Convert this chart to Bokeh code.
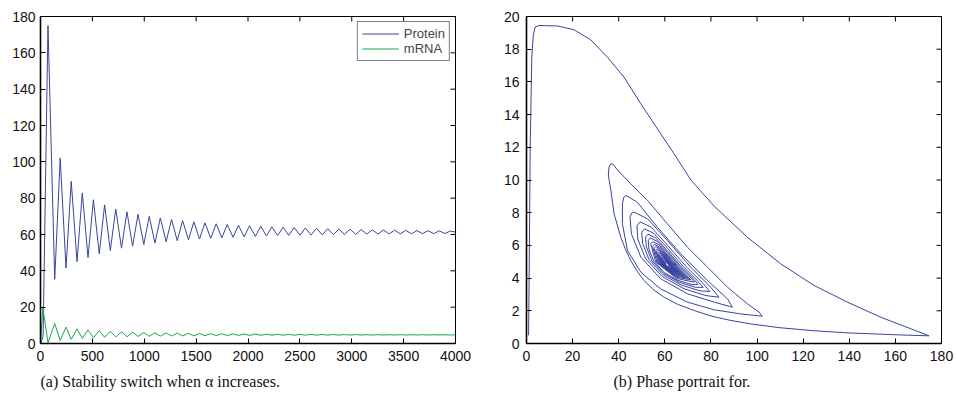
import math
from bokeh.plotting import figure
from bokeh.models import FixedTicker, Legend, LegendItem, Title, Range1d
from bokeh.layouts import row
from bokeh.embed import file_html
from bokeh.resources import INLINE

# ---------------- data: time series (extrema) ----------------
protein_start_t = [0, 25]
protein_start_v = [0, 4]
protein_end_t = [4000]
protein_end_v = [61.3]
peak_t = [72, 190, 296, 403, 510, 618, 725, 833, 940, 1048, 1155, 1263, 1370, 1478, 1585,
          1693, 1800, 1908, 2015, 2123, 2230, 2338, 2445, 2553, 2660, 2768, 2875, 2983,
          3090, 3198, 3305, 3413, 3520, 3628, 3735, 3843, 3950]
trough_t = [137, 246, 352, 458, 566, 673, 781, 888, 996, 1103, 1211, 1318, 1426, 1533,
            1641, 1748, 1856, 1963, 2071, 2178, 2286, 2393, 2501, 2608, 2716, 2823, 2931,
            3038, 3146, 3253, 3361, 3468, 3576, 3683, 3791, 3898]
protein_peaks = [175, 102, 89.3, 82.9, 79.1, 76.3, 74.0, 72.5, 71.1, 70.0, 69.1, 68.3, 67.6,
                 67.0, 66.4, 65.9, 65.5, 65.1, 64.8, 64.5, 64.2, 64.0, 63.8, 63.6, 63.4, 63.2,
                 63.0, 62.9, 62.7, 62.6, 62.5, 62.4, 62.3, 62.2, 62.1, 62.0, 61.9]
protein_troughs = [35.3, 41.5, 45.1, 47.4, 49.4, 51.2, 52.5, 53.6, 54.5, 55.3, 56.0, 56.6,
                   57.1, 57.5, 57.9, 58.2, 58.5, 58.8, 59.0, 59.2, 59.4, 59.5, 59.6, 59.7,
                   59.8, 59.9, 60.0, 60.1, 60.2, 60.25, 60.3, 60.35, 60.4, 60.45, 60.5, 60.55]

mrna_start_t = [0, 23]
mrna_start_v = [0, 19.5]
mrna_end_t = [4000]
mrna_end_v = [4.75]
mrna_troughs = [0.47, 1.67, 2.22, 2.83, 3.18, 3.43, 3.62, 3.75, 3.89, 3.98, 4.06, 4.14, 4.19,
                4.25, 4.30, 4.35, 4.39, 4.42, 4.46, 4.49, 4.52, 4.54, 4.56, 4.58, 4.60, 4.61,
                4.62, 4.63, 4.64, 4.65, 4.66, 4.67, 4.67, 4.68, 4.68, 4.69, 4.69]
mrna_peaks = [11.0, 9.05, 8.03, 7.44, 7.01, 6.69, 6.46, 6.23, 6.06, 5.93, 5.80, 5.70, 5.60,
              5.52, 5.44, 5.37, 5.31, 5.25, 5.20, 5.15, 5.10, 5.06, 5.02, 4.99, 4.96, 4.93,
              4.91, 4.89, 4.87, 4.86, 4.85, 4.84, 4.83, 4.82, 4.81, 4.80]

# ---------------- data: phase portrait (protein, mRNA) ----------------
pp_start_x = [0.9, 1.2, 1.6, 2.3, 2.9, 3.7, 5.5, 13.4, 20.6, 27.9, 35.1, 42.3, 49.6, 56.8, 64.0,
              71.3, 81.4, 95.8, 110.3, 124.7, 139.2, 153.6, 166.7, 174.6]
pp_start_y = [0.5, 5.0, 12.0, 17.5, 18.8, 19.35, 19.45, 19.42, 19.19, 18.57, 17.51, 16.29, 14.66,
              13.13, 11.6, 10.0, 8.4, 6.5, 4.87, 3.55, 2.53, 1.61, 0.9, 0.47]
pp_loop2_x = [160.9, 139.2, 124.7, 110.3, 98.0, 88.6, 80.0, 72.7, 65.5, 59.7, 55.0, 51.0, 47.8,
              45.2, 42.8, 40.9, 38.0, 36.6, 35.5, 35.8, 36.6, 37.6, 39.5, 45.2, 52.5, 61.1, 69.8,
              78.5, 87.2, 95.8, 100.9, 102.3]
pp_loop2_y = [0.53, 0.65, 0.78, 0.96, 1.18, 1.41, 1.68, 2.02, 2.4, 2.83, 3.3, 3.85, 4.45, 5.08,
              5.8, 6.5, 7.93, 9.36, 10.3, 10.8, 11.0, 10.95, 10.6, 9.77, 8.75, 7.32, 5.89, 4.67,
              3.44, 2.43, 1.92, 1.67]
pp_loop3_x = [92.9, 81.4, 69.8, 58.2, 49.6, 43.8, 41.6, 41.6, 42.2, 43.1, 44.5, 48.1, 56.8, 66.9,
              78.5, 87.2, 89.3]
pp_loop3_y = [1.81, 2.06, 2.53, 3.34, 4.36, 5.69, 7.32, 8.54, 8.95, 9.05, 8.95, 8.64, 7.11, 5.49,
              3.85, 2.73, 2.22]
pp_loop4_x = [81.4, 69.8, 58.2, 49.6, 45.5, 44.9, 45.6, 46.7, 52.5, 61.1, 71.2, 79.9, 83.5]
pp_loop4_y = [2.53, 3.04, 3.96, 5.28, 6.71, 7.72, 7.98, 8.03, 7.63, 6.3, 4.67, 3.44, 2.83]
pp_loop5_x = [77.8, 68.3, 58.8, 51.7, 48.3, 47.9, 49.3, 54.1, 61.1, 69.4, 76.6, 79.5]
pp_loop5_y = [2.93, 3.35, 4.10, 5.18, 6.36, 7.19, 7.44, 7.11, 6.02, 4.68, 3.68, 3.18]
pp_loop6_x = [75.2, 67.2, 59.2, 53.2, 50.4, 50.0, 51.2, 55.2, 61.2, 68.1, 74.1, 76.6]
pp_loop6_y = [3.22, 3.57, 4.20, 5.12, 6.10, 6.80, 7.01, 6.74, 5.82, 4.69, 3.85, 3.43]
pp_loop7_x = [73.2, 66.3, 59.5, 54.4, 52.0, 51.6, 52.7, 56.1, 61.2, 67.1, 72.3, 74.4]
pp_loop7_y = [3.44, 3.74, 4.28, 5.06, 5.91, 6.50, 6.69, 6.45, 5.66, 4.70, 3.98, 3.62]
pp_loop8_x = [71.8, 65.7, 59.7, 55.2, 53.1, 52.8, 53.7, 56.7, 61.2, 66.5, 71.0, 72.8]
pp_loop8_y = [3.60, 3.86, 4.34, 5.03, 5.77, 6.29, 6.46, 6.25, 5.56, 4.71, 4.07, 3.75]
pp_core_x = [65.1, 56.0, 53.9, 54.7, 57.3, 61.2, 65.8, 71.3,
             64.7, 56.6, 54.7, 55.5, 57.8, 61.2, 65.3, 70.2,
             64.4, 57.1, 55.4, 56.0, 58.1, 61.2, 64.9, 69.3,
             64.0, 57.6, 56.1, 56.6, 58.5, 61.2, 64.5, 68.4,
             63.8, 57.9, 56.5, 57.1, 58.8, 61.2, 64.2, 67.7,
             63.5, 58.3, 57.0, 57.5, 59.0, 61.2, 63.9, 67.1,
             63.3, 58.6, 57.5, 57.9, 59.2, 61.3, 63.6, 66.5,
             63.1, 58.8, 57.9, 58.2, 59.5, 61.3, 63.4, 66.0,
             62.9, 59.1, 58.2, 58.5, 59.6, 61.3, 63.2, 65.5,
             62.8, 59.3, 58.5, 58.8, 59.8, 61.3, 63.0, 65.1,
             62.6, 59.5, 58.8, 59.1, 60.0, 61.3, 62.8, 64.6,
             62.4, 59.8, 59.2, 59.4, 60.2, 61.3, 62.6, 64.2,
             62.2, 60.0, 59.5, 59.7, 60.3, 61.3, 62.4, 63.7,
             62.1, 60.3, 59.8, 60.0, 60.5, 61.3, 62.2, 63.3,
             61.9, 60.5, 60.2, 60.3, 60.7, 61.3, 62.0, 62.9,
             61.3]
pp_core_y = [3.98, 4.99, 6.09, 6.23, 6.05, 5.45, 4.71, 3.89,
             4.07, 4.96, 5.94, 6.06, 5.90, 5.37, 4.72, 3.98,
             4.13, 4.94, 5.82, 5.93, 5.79, 5.31, 4.72, 4.06,
             4.20, 4.92, 5.70, 5.80, 5.67, 5.25, 4.72, 4.14,
             4.25, 4.90, 5.61, 5.70, 5.59, 5.20, 4.73, 4.19,
             4.31, 4.89, 5.52, 5.60, 5.50, 5.15, 4.73, 4.25,
             4.35, 4.87, 5.45, 5.52, 5.43, 5.11, 4.73, 4.30,
             4.39, 4.86, 5.37, 5.44, 5.35, 5.08, 4.73, 4.35,
             4.43, 4.85, 5.31, 5.37, 5.30, 5.04, 4.74, 4.39,
             4.46, 4.84, 5.25, 5.31, 5.24, 5.01, 4.74, 4.42,
             4.49, 4.83, 5.20, 5.24, 5.18, 4.98, 4.74, 4.46,
             4.53, 4.82, 5.14, 5.18, 5.12, 4.95, 4.74, 4.50,
             4.56, 4.81, 5.08, 5.11, 5.07, 4.92, 4.74, 4.54,
             4.60, 4.80, 5.02, 5.05, 5.01, 4.89, 4.74, 4.58,
             4.63, 4.79, 4.96, 4.98, 4.95, 4.86, 4.74, 4.62,
             4.75]

# ---------------- axis ticks and texts ----------------
ts_x_ticks = [0, 500, 1000, 1500, 2000, 2500, 3000, 3500, 4000]
ts_y_ticks = [0, 20, 40, 60, 80, 100, 120, 140, 160, 180]
pp_x_ticks = [0, 20, 40, 60, 80, 100, 120, 140, 160, 180]
pp_y_ticks = [0, 2, 4, 6, 8, 10, 12, 14, 16, 18, 20]
series_names = ["Protein", "mRNA"]
caption_a = "(a) Stability switch when \u03b1 increases."
caption_b = "(b) Phase portrait for."


def interleave(a, b):
    out = []
    for i in range(len(a)):
        out.append(a[i])
        if i < len(b):
            out.append(b[i])
    return out


protein_t = protein_start_t + interleave(peak_t, trough_t) + protein_end_t
protein_v = protein_start_v + interleave(protein_peaks, protein_troughs) + protein_end_v
mrna_t = mrna_start_t + interleave(peak_t, trough_t) + mrna_end_t
mrna_v = mrna_start_v + interleave(mrna_troughs, mrna_peaks) + mrna_end_v

pp_x = (pp_start_x + pp_loop2_x + pp_loop3_x + pp_loop4_x + pp_loop5_x + pp_loop6_x
        + pp_loop7_x + pp_loop8_x + pp_core_x)
pp_y = (pp_start_y + pp_loop2_y + pp_loop3_y + pp_loop4_y + pp_loop5_y + pp_loop6_y
        + pp_loop7_y + pp_loop8_y + pp_core_y)

BLUE = "#3a43a0"
GREEN = "#17a84b"
TICK_FONT = "Liberation Sans"
TICK_SIZE = "14px"


def make_fig(xr, yr, xt, yt, left, right, top, ystandoff, caption, cap_offset):
    p = figure(frame_width=415, frame_height=327, x_range=Range1d(*xr), y_range=Range1d(*yr),
               output_backend="svg", toolbar_location=None,
               min_border_left=left, min_border_right=right, min_border_top=top,
               min_border_bottom=8)
    p.xgrid.visible = False
    p.ygrid.visible = False
    p.outline_line_color = "black"
    p.outline_line_width = 1
    p.background_fill_color = "white"
    p.border_fill_color = "white"
    for ax, ticks, standoff in ((p.xaxis[0], xt, 7), (p.yaxis[0], yt, ystandoff)):
        ax.ticker = FixedTicker(ticks=ticks)
        ax.major_tick_in = 5
        ax.major_tick_out = 0
        ax.minor_tick_line_color = None
        ax.axis_line_width = 1.6
        ax.axis_line_color = "black"
        ax.major_tick_line_color = "black"
        ax.major_label_text_font = TICK_FONT
        ax.major_label_text_font_size = TICK_SIZE
        ax.major_label_text_color = "#111111"
        ax.major_label_standoff = standoff
    # inward ticks on the top and right edges (half of each dash is clipped by the frame)
    p.scatter(x=xt, y=[yr[1]] * len(xt), marker="dash", angle=math.pi / 2, size=10,
              line_color="black", line_width=1)
    p.scatter(x=[xr[1]] * len(yt), y=yt, marker="dash", size=10,
              line_color="black", line_width=1)
    p.add_layout(Title(text=caption, align="left", offset=cap_offset, standoff=15,
                       text_font="Liberation Serif", text_font_size="16px",
                       text_font_style="normal", text_color="#111111"), "below")
    return p


p1 = make_fig((0, 4000), (0, 180), ts_x_ticks, ts_y_ticks, 40, 31, 16, 5, caption_a, 0)
r_protein = p1.line(protein_t, protein_v, line_color=BLUE, line_width=1)
r_mrna = p1.line(mrna_t, mrna_v, line_color=GREEN, line_width=1)
legend = Legend(items=[LegendItem(label=series_names[0], renderers=[r_protein]),
                       LegendItem(label=series_names[1], renderers=[r_mrna])],
                location="top_right", margin=5, padding=4, spacing=0,
                glyph_width=37, glyph_height=15, label_height=15, label_standoff=5,
                label_text_font=TICK_FONT, label_text_font_size="13px",
                border_line_color="black", border_line_width=1.5,
                background_fill_color="white", background_fill_alpha=1)
p1.add_layout(legend)

p2 = make_fig((0, 180), (0, 20), pp_x_ticks, pp_y_ticks, 40, 14, 16, 7, caption_b, 87)
p2.line(pp_x, pp_y, line_color=BLUE, line_width=1)

layout = row(p1, p2)
open("out.html", "w").write(file_html(layout, INLINE))
